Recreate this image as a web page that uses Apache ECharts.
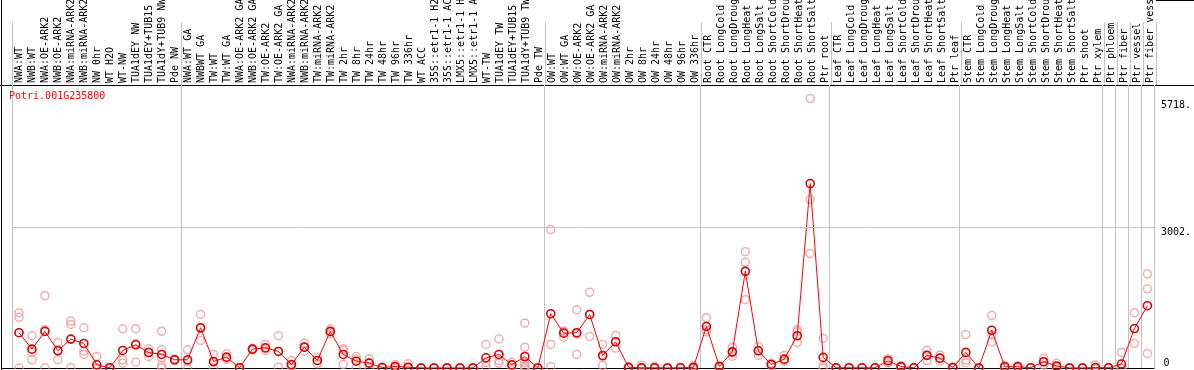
<!DOCTYPE html>
<html><head><meta charset="utf-8">
<script src="https://cdn.jsdelivr.net/npm/echarts@6/dist/echarts.min.js"></script>
<style>html,body{margin:0;padding:0;background:#fff}#c{width:1194px;height:370px}</style>
</head><body><div id="c"></div><script>
const geneId = 'Potri.001G235800';

const categories = [
  'NWA:WT','NWB:WT','NWA:OE-ARK2','NWB:OE-ARK2','NWA:miRNA-ARK2','NWB:miRNA-ARK2','NW 0hr','WT H2O','WT-NW','TUA1dEY NW','TUA1dEY+TUB15 NW','TUA1dY+TUB9 NW','Pde NW',
  'NWA:WT GA','NWBWT GA','TW:WT','TW:WT GA','NWA:OE-ARK2 GA','NWB:OE-ARK2 GA','TW:OE-ARK2','TW:OE-ARK2 GA','NWA:miRNA-ARK2 GA','NWB:miRNA-ARK2 GA','TW:miRNA-ARK2','TW:miRNA-ARK2 GA',
  'TW 2hr','TW 8hr','TW 24hr','TW 48hr','TW 96hr','TW 336hr','WT ACC','35S::etr1-1 H2O','35S::etr1-1 ACC','LMX5::etr1-1 H2O','LMX5::etr1-1 ACC','WT-TW','TUA1dEY TW','TUA1dEY+TUB15 TW','TUA1dY+TUB9 TW','Pde TW',
  'OW:WT','OW:WT GA','OW:OE-ARK2','OW:OE-ARK2 GA','OW:miRNA-ARK2','OW:miRNA-ARK2 GA','OW 2hr','OW 8hr','OW 24hr','OW 48hr','OW 96hr','OW 336hr',
  'Root CTR','Root LongCold','Root LongDrought','Root LongHeat','Root LongSalt','Root ShortCold','Root ShortDrought','Root ShortHeat','Root ShortSalt','Ptr root',
  'Leaf CTR','Leaf LongCold','Leaf LongDrought','Leaf LongHeat','Leaf LongSalt','Leaf ShortCold','Leaf ShortDrought','Leaf ShortHeat','Leaf ShortSalt','Ptr leaf',
  'Stem CTR','Stem LongCold','Stem LongDrought','Stem LongHeat','Stem LongSalt','Stem ShortCold','Stem ShortDrought','Stem ShortHeat','Stem ShortSalt','Ptr shoot','Ptr xylem',
  'Ptr phloem','Ptr fiber','Ptr vessel','Ptr fiber vessel'
];

// index of the first category of each group (vertical separators)
const groupStarts = [0, 13, 41, 53, 63, 73, 84, 85, 86, 87];

const means = [
  763, 412, 790, 378, 626, 534, 79, 15, 384, 505, 341, 299, 186,
  186, 868, 149, 242, 15, 412, 441, 363, 85, 455, 171, 790,
  299, 156, 114, 20, 43, 28, 12, 12, 12, 12, 12, 228, 299, 79, 256, 12,
  1167, 753, 762, 1152, 277, 569, 25, 15, 15, 12, 15, 25,
  896, 43, 355, 2070, 377, 85, 199, 698, 3941, 237,
  15, 15, 15, 15, 165, 40, 15, 280, 220, 20,
  343, 12, 815, 38, 38, 15, 144, 53, 12, 12, 20,
  15, 95, 851, 1338
];

const replicates = [
  [1190, 1090, 10], [698, 353, 185], [1551, 826, 15], [555, 393, 186], [1010, 940, 20], [868, 370, 300],
  [256, 10, 0], [20, 15, 10], [847, 186, 114], [847, 533, 135], [420, 347, 256], [796, 399, 228, 64, 15], [200, 180, 178],
  [399, 159, 0], [1152, 854, 598], [299, 133, 15], [313, 221, 192], [20, 15, 10], [430, 410, 396], [512, 427, 384],
  [698, 363, 28], [171, 64, 20], [540, 455, 370], [242, 171, 100], [847, 783, 740],
  [420, 392, 85], [256, 197, 15], [207, 120, 15], [25, 20, 15], [85, 30, 14], [100, 10, 4], [15, 10, 10], [15, 10, 10],
  [15, 10, 10], [15, 10, 10], [15, 10, 10], [512, 129, 43], [633, 170, 110], [135, 74, 28], [967, 455, 120, 60, 30, 0], [15, 10, 10],
  [2960, 512, 43], [800, 790, 668], [1252, 735, 299], [1622, 1151, 683], [512, 256, 64], [704, 570, 434],
  [30, 25, 20], [71, 10, 0], [43, 10, 0], [15, 10, 10], [20, 15, 10], [64, 10, 0],
  [1082, 826, 780], [60, 40, 30], [455, 333, 263], [2490, 2262, 1466], [469, 385, 277], [110, 85, 60],
  [277, 164, 156], [826, 783, 555], [5750, 3600, 2448], [640, 50, 10],
  [20, 15, 10], [20, 15, 10], [20, 15, 10], [20, 15, 10], [210, 165, 120], [60, 40, 20], [20, 15, 10],
  [390, 280, 170], [290, 220, 150], [30, 20, 10],
  [724, 180, 123], [15, 10, 10], [1127, 716, 568], [60, 40, 15], [60, 40, 15], [20, 15, 10], [216, 142, 74],
  [110, 35, 15], [15, 10, 10], [15, 10, 10], [74, 0, 0],
  [20, 15, 10], [343, 10, 0], [1190, 534], [2016, 1698, 322]
];

const yTopTicks = [3002, 5718];
const yBottomTicks = [0];
const gridLineValues = [3002];
const yMax = 6040;

const font = 'DejaVu Sans Mono';
const chart = echarts.init(document.getElementById('c'), null, { renderer: 'canvas' });

const repData = [];
replicates.forEach((arr, i) => arr.forEach(v => repData.push([i, v])));

const sep = {
  show: true,
  interval: (i) => groupStarts.indexOf(i) >= 0,
  lineStyle: { color: '#c4c4c4', width: 1 }
};
const plotGrid = { left: 12.5, width: 1144, top: 85, bottom: 1.5 };

chart.setOption({
  animation: false,
  backgroundColor: '#ffffff',
  title: {
    text: geneId, left: 9, top: 91, padding: 0,
    textStyle: { color: '#ff0000', fontSize: 10, fontWeight: 'normal', fontFamily: font }
  },
  grid: [
    { left: 12.5, width: 1144, top: 0, height: 85 },
    plotGrid,
    plotGrid
  ],
  xAxis: [
    { gridIndex: 0, type: 'category', data: categories, position: 'bottom', boundaryGap: true,
      axisLine: { show: false }, axisTick: { show: false },
      axisLabel: { show: true, inside: true, rotate: 90, interval: 0, margin: 2,
        fontFamily: font, fontSize: 10, color: '#000' },
      splitLine: sep },
    { gridIndex: 1, type: 'category', data: categories, position: 'bottom', boundaryGap: true,
      axisLine: { show: true, lineStyle: { color: '#000', width: 1 } }, axisTick: { show: false },
      axisLabel: { show: false }, splitLine: sep },
    { gridIndex: 2, type: 'category', data: categories, show: false }
  ],
  yAxis: [
    { gridIndex: 0, type: 'value', min: 0, max: 1, show: false },
    { gridIndex: 1, type: 'value', min: 0, max: yMax, position: 'right',
      axisLine: { show: false }, axisTick: { show: false }, splitLine: { show: false },
      axisLabel: { show: true, customValues: yTopTicks, verticalAlign: 'top', margin: 7,
        fontFamily: font, fontSize: 10, color: '#000', formatter: v => v + '.' } },
    { gridIndex: 2, type: 'value', min: 0, max: yMax, position: 'right',
      axisLine: { show: false }, axisTick: { show: false }, splitLine: { show: false },
      axisLabel: { show: true, customValues: yBottomTicks, verticalAlign: 'bottom', margin: 7,
        fontFamily: font, fontSize: 10, color: '#000', formatter: v => String(v) } }
  ],
  graphic: [
    { type: 'line', shape: { x1: 1.5, y1: 0, x2: 1.5, y2: 370 }, style: { stroke: '#000', lineWidth: 1 }, silent: true },
    { type: 'line', shape: { x1: 0, y1: 85.5, x2: 1194, y2: 85.5 }, style: { stroke: '#000', lineWidth: 1 }, silent: true },
    { type: 'line', shape: { x1: 1156, y1: 0.5, x2: 1194, y2: 0.5 }, style: { stroke: '#000', lineWidth: 1 }, silent: true },
    { type: 'line', shape: { x1: 1, y1: 368.5, x2: 13, y2: 368.5 }, style: { stroke: '#000', lineWidth: 1 }, silent: true }
  ],
  series: [
    { type: 'scatter', xAxisIndex: 1, yAxisIndex: 1, data: repData, z: 2,
      symbol: 'circle', symbolSize: 8,
      itemStyle: { color: 'rgba(0,0,0,0)', borderColor: '#f09a9a', borderWidth: 1.5 },
      markLine: { silent: true, symbol: ['none', 'none'], label: { show: false },
        lineStyle: { color: '#c4c4c4', width: 1, type: 'solid' },
        data: gridLineValues.map(v => ({ yAxis: v })) } },
    { type: 'line', xAxisIndex: 1, yAxisIndex: 1, data: means, z: 3,
      symbol: 'circle', symbolSize: 8, showAllSymbol: true,
      itemStyle: { color: 'rgba(0,0,0,0)', borderColor: '#d80000', borderWidth: 1.6 },
      lineStyle: { color: '#ff0000', width: 1 } }
  ]
});
</script></body></html>
